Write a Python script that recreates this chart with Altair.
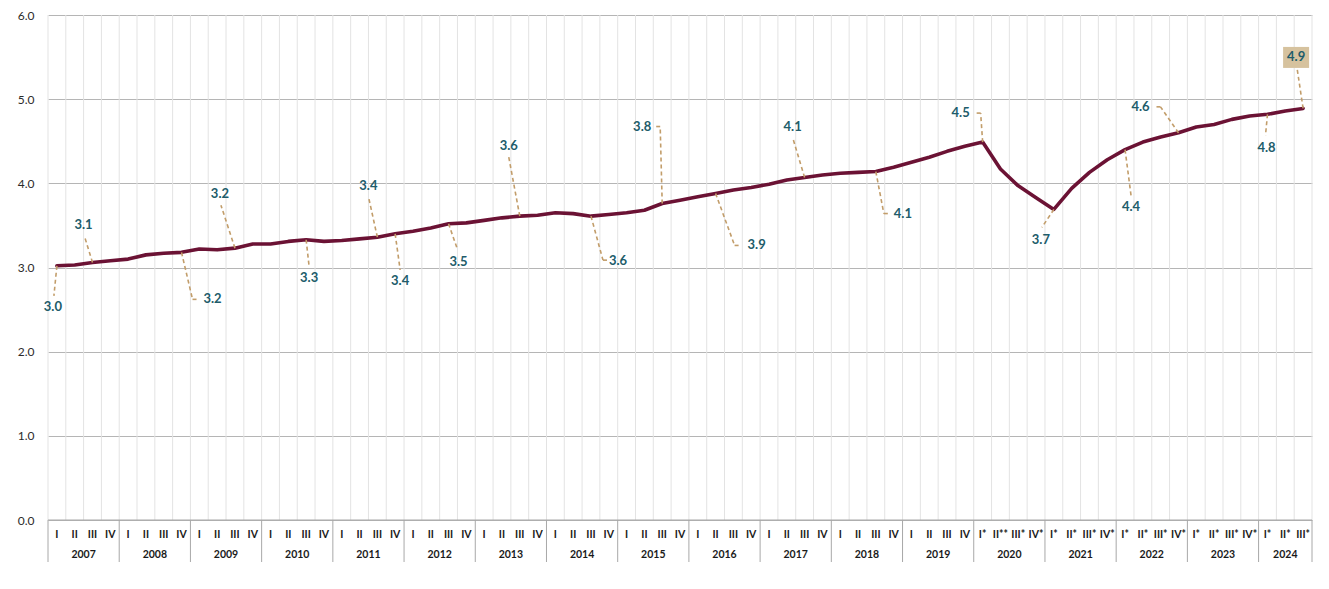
import altair as alt
import pandas as pd

# ---------------- data ----------------
years = list(range(2007, 2025))
quarter_labels = (
    ["I", "II", "III", "IV"] * 13
    + ["I*", "II**", "III*", "IV*"]
    + ["I*", "II*", "III*", "IV*"] * 3
    + ["I*", "II*", "III*"]
)
values = [
    3.02, 3.03, 3.06, 3.08,
    3.10, 3.15, 3.17, 3.18,
    3.22, 3.21, 3.23, 3.28,
    3.28, 3.31, 3.33, 3.31,
    3.32, 3.34, 3.36, 3.40,
    3.43, 3.47, 3.52, 3.53,
    3.56, 3.59, 3.61, 3.62,
    3.65, 3.64, 3.61, 3.63,
    3.65, 3.68, 3.76, 3.80,
    3.84, 3.88, 3.92, 3.95,
    3.99, 4.04, 4.07, 4.10,
    4.12, 4.13, 4.14, 4.19,
    4.25, 4.31, 4.38, 4.44,
    4.49, 4.17, 3.97, 3.83,
    3.69, 3.94, 4.13, 4.28,
    4.40, 4.49, 4.55, 4.60,
    4.67, 4.70, 4.76, 4.80,
    4.82, 4.86, 4.89,
]
y_ticks = [0, 1, 2, 3, 4, 5, 6]

# annotated points (index into values) and label placement offsets (pixels)
ann_idx   = [0,   2,   7,  10,  14,  18,  19,  22,  26,  30,  34,  37,  42,  46,  52,  56,  60,  63,  68,  70]
lead_dx   = [-3,  -8,  11, -14,   3,  -9,   5,   9, -11,  12,  -2,  19, -12,   8,  -2, -12,   6, -18,  -2,  -6]
lead_dy   = [30, -26,  47, -43,  27, -41,  36,  26, -59,  44, -77,  52, -40,  42, -29,  18,  46, -26,  21, -40]
elbow_dx  = [0,    0,   6,   0,   0,   0,   0,   0,   0,   6,  -5,   6,   0,   6,  -4,   0,   0,  -5,   0,   0]
text_dx   = [-4,  -9,  31, -15,   3,  -9,   5,  10, -11,  27, -20,  41, -12,  27, -22, -13,   6, -38,  -1,  -7]
text_dy   = [41, -37,  47, -54,  38, -51,  47,  38, -70,  45, -77,  52, -50,  42, -29,  31,  57, -26,  34, -51]
boxed     = [70]

# ---------------- layout / style ----------------
W, H = 1264, 505
N = len(values)
PXQ = W / N          # pixels per quarter
PXV = H / 6.0        # pixels per unit
LINE_COLOR = "#6B1234"
LEAD_COLOR = "#C29D6A"
LABEL_COLOR = "#215C6A"
FONT = "Lato"

xscale = alt.Scale(domain=[-0.5, N - 0.5], nice=False, zero=False)
yscale = alt.Scale(domain=[0, 6], nice=False, zero=True)
Y_AXIS = alt.Axis(
    values=y_ticks, format=".1f", grid=True, gridColor="#B5B5B5", gridWidth=1,
    domain=False, ticks=False, labelPadding=14, labelFont=FONT, labelFontSize=12,
    labelColor="#2B2B2B", title=None,
)


def Y(field):
    return alt.Y(field, scale=yscale, axis=Y_AXIS, title=None)


df = pd.DataFrame({"i": list(range(N)), "v": values, "q": quarter_labels})

# annotation table
rows = []
for k, idx in enumerate(ann_idx):
    v = values[idx]
    lx = idx + lead_dx[k] / PXQ
    ly = v - lead_dy[k] / PXV
    rows.append({
        "i": idx, "v": v,
        "lx": lx, "ly": ly,
        "ex": lx + elbow_dx[k] / PXQ,
        "has_elbow": elbow_dx[k] != 0,
        "tx": idx + text_dx[k] / PXQ,
        "ty": v - text_dy[k] / PXV,
        "boxed": idx in boxed,
    })
ann = pd.DataFrame(rows)
elbows = ann[ann["has_elbow"]]
boxes = ann[ann["boxed"]].copy()
boxes["bx1"] = boxes["tx"] - 13 / PXQ
boxes["bx2"] = boxes["tx"] + 13 / PXQ
boxes["by1"] = boxes["ty"] - 10.5 / PXV
boxes["by2"] = boxes["ty"] + 10.5 / PXV

# grid / axis helpers
vgrid = pd.DataFrame({"b": [k - 0.5 for k in range(N + 1)]})
year_start = [4 * k for k in range(len(years))]
year_end = [min(4 * k + 3, N - 1) for k in range(len(years))]
year_df = pd.DataFrame({
    "year": [str(y) for y in years],
    "c": [(s + e) / 2 for s, e in zip(year_start, year_end)],
})
sep_df = pd.DataFrame({"b": [s - 0.5 for s in year_start] + [N - 0.5]})

# ---------------- layers ----------------
grid_v = alt.Chart(vgrid).mark_rule(color="#E3E3E3", strokeWidth=1).encode(
    x=alt.X("b:Q", scale=xscale, axis=None),
    y=alt.value(0),
    y2=alt.value(H),
)

line = alt.Chart(df).mark_line(
    color=LINE_COLOR, strokeWidth=3.6, interpolate="linear", strokeCap="round", strokeJoin="round"
).encode(
    x=alt.X("i:Q", scale=xscale, axis=None),
    y=Y("v:Q"),
)

leaders = alt.Chart(ann).mark_rule(color=LEAD_COLOR, strokeWidth=1.6, strokeDash=[4, 3]).encode(
    x=alt.X("i:Q", scale=xscale, axis=None),
    y=Y("v:Q"),
    x2="lx:Q",
    y2="ly:Q",
)

elbow = alt.Chart(elbows).mark_rule(color=LEAD_COLOR, strokeWidth=1.6, strokeDash=[4, 3]).encode(
    x=alt.X("lx:Q", scale=xscale, axis=None),
    y=Y("ly:Q"),
    x2="ex:Q",
)

box = alt.Chart(boxes).mark_rect(color="#D6C29E").encode(
    x=alt.X("bx1:Q", scale=xscale, axis=None),
    x2="bx2:Q",
    y=Y("by1:Q"),
    y2="by2:Q",
)

labels = alt.Chart(ann).mark_text(
    font=FONT, fontSize=13, fontWeight="bold", color=LABEL_COLOR, align="center", baseline="middle"
).encode(
    x=alt.X("tx:Q", scale=xscale, axis=None),
    y=Y("ty:Q"),
    text=alt.Text("v:Q", format=".1f"),
)

base_line = alt.Chart(pd.DataFrame({"a": [-0.5], "b": [N - 0.5]})).mark_rule(
    color="#A8A8A8", strokeWidth=1
).encode(
    x=alt.X("a:Q", scale=xscale, axis=None),
    x2="b:Q",
    y=alt.value(H),
)

separators = alt.Chart(sep_df).mark_rule(color="#A8A8A8", strokeWidth=1).encode(
    x=alt.X("b:Q", scale=xscale, axis=None),
    y=alt.value(H),
    y2=alt.value(H + 42),
)

q_text = alt.Chart(df).mark_text(
    font=FONT, fontSize=10.5, fontWeight="bold", color="#1A1A1A", baseline="middle"
).encode(
    x=alt.X("i:Q", scale=xscale, axis=None),
    y=alt.value(H + 15),
    text="q:N",
)

y_text = alt.Chart(year_df).mark_text(
    font=FONT, fontSize=10.5, fontWeight="bold", color="#1A1A1A", baseline="middle"
).encode(
    x=alt.X("c:Q", scale=xscale, axis=None),
    y=alt.value(H + 35),
    text="year:N",
)

chart = alt.layer(
    grid_v, line, leaders, elbow, box, labels, base_line, separators, q_text, y_text,
).properties(
    width=W,
    height=H,
    autosize=alt.AutoSizeParams(type="none"),
    padding={"left": 40, "top": 7, "right": 6, "bottom": 62},
    background="white",
).configure_view(stroke=None)

chart.save("out.html", embed_options={"renderer": "svg", "actions": False})
